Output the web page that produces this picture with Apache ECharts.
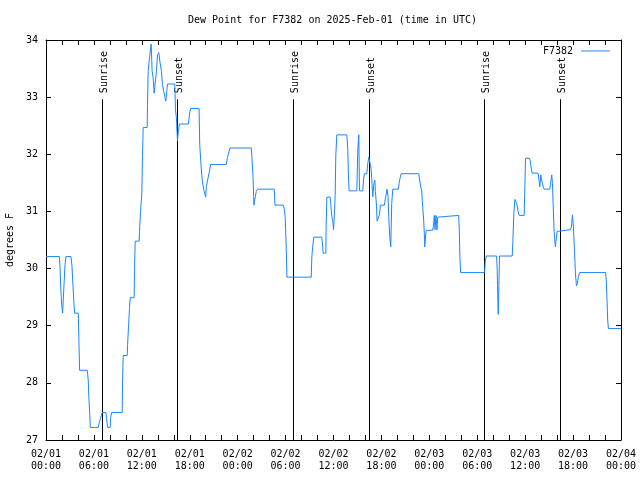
<!DOCTYPE html>
<html><head><meta charset="utf-8">
<script src="https://cdn.jsdelivr.net/npm/echarts@6/dist/echarts.min.js"></script>
<style>html,body{margin:0;padding:0;background:#fff}#c{width:640px;height:480px}</style>
</head><body><div id="c"></div>
<script>
const hours = [0,1.67,1.75,1.83,1.96,2.08,2.17,2.25,2.375,2.5,3.125,3.25,3.375,3.5,3.58,4.04,4.125,4.21,5.17,5.29,5.375,5.5,5.54,6.54,6.67,6.83,7.04,7.5,7.58,7.71,8.04,8.08,8.21,9.54,9.58,9.67,10.17,10.21,10.33,10.46,10.54,11.04,11.08,11.17,11.67,11.71,11.83,12.0,12.08,12.17,12.67,12.71,12.79,13.0,13.17,13.29,13.42,13.54,13.71,13.83,13.96,14.125,14.25,14.46,14.58,14.75,14.875,15.0,15.125,15.21,16.125,16.21,16.33,16.46,16.58,16.71,17.83,18.0,18.125,19.17,19.25,19.42,19.58,19.75,20.0,20.08,20.25,20.42,20.625,22.58,22.71,22.875,23.04,25.71,25.79,25.92,26.0,26.04,26.21,26.33,26.5,28.58,28.67,29.71,29.83,29.96,30.08,30.17,33.21,33.29,33.42,33.54,34.54,34.71,35.04,35.08,35.17,35.58,35.67,35.79,35.92,36.0,36.125,36.21,36.29,36.42,37.67,37.79,37.875,37.96,38.92,39.04,39.17,39.25,39.67,39.75,39.875,40.17,40.29,40.42,40.58,40.67,40.75,40.83,40.92,41.04,41.17,41.25,41.375,41.46,41.67,41.75,41.875,42.375,42.5,42.625,42.71,42.83,42.92,43.04,43.17,43.29,43.42,44.125,44.21,44.33,44.46,46.67,46.79,46.92,47.04,47.17,47.29,47.375,47.42,47.54,47.625,48.42,48.5,48.625,48.71,48.83,48.96,49.04,49.17,51.67,51.75,51.83,51.92,54.92,55.0,55.125,56.42,56.5,56.54,56.625,56.71,56.79,58.375,58.46,58.58,58.71,58.83,58.96,59.125,59.25,59.875,59.96,60.04,60.54,60.625,60.71,60.79,60.875,61.625,61.75,61.83,61.96,62.04,62.17,62.25,62.375,63.08,63.21,63.33,63.42,63.5,63.625,63.71,63.79,63.875,64.0,64.125,65.67,65.79,65.92,66.04,66.17,66.29,66.42,66.54,66.67,66.83,70.08,70.17,70.25,70.33,70.42,72.0];
const dewPoint = [30.21,30.21,30.05,29.71,29.38,29.22,29.22,29.71,30.05,30.21,30.21,30.05,29.71,29.38,29.22,29.22,28.71,28.22,28.22,28.05,27.72,27.38,27.22,27.22,27.30,27.38,27.48,27.48,27.38,27.22,27.22,27.38,27.48,27.48,27.98,28.48,28.48,28.65,28.98,29.32,29.49,29.49,29.98,30.48,30.48,30.65,30.98,31.32,31.98,32.47,32.47,32.85,33.45,33.74,33.93,33.45,33.33,33.07,33.07,33.45,33.74,33.78,33.63,33.45,33.22,33.10,33.01,32.93,33.10,33.23,33.23,32.78,32.64,32.24,32.40,32.53,32.53,32.74,32.80,32.80,32.17,31.79,31.53,31.38,31.25,31.44,31.56,31.67,31.82,31.82,31.94,32.02,32.11,32.11,31.93,31.61,31.26,31.11,31.26,31.35,31.39,31.39,31.11,31.11,31.05,30.88,30.35,29.85,29.85,30.21,30.42,30.55,30.55,30.27,30.27,30.76,31.25,31.25,31.11,30.91,30.82,30.68,30.97,31.30,31.99,32.34,32.34,32.08,31.60,31.36,31.36,32.08,32.34,31.36,31.36,31.55,31.66,31.66,31.84,31.95,31.95,31.78,31.67,31.46,31.26,31.46,31.55,31.35,31.11,30.83,30.83,30.94,31.11,31.11,31.23,31.32,31.39,31.26,30.91,30.56,30.38,31.14,31.39,31.39,31.49,31.58,31.66,31.66,31.55,31.43,31.37,31.08,30.85,30.62,30.38,30.59,30.67,30.67,30.73,30.93,30.68,30.93,30.68,30.90,30.93,30.93,30.68,30.19,29.93,29.93,30.12,30.22,30.22,29.97,29.70,29.20,29.70,30.22,30.22,30.47,30.96,31.21,31.21,31.13,30.99,30.93,30.93,31.43,31.93,31.93,31.89,31.80,31.73,31.67,31.67,31.52,31.43,31.64,31.55,31.49,31.43,31.39,31.39,31.52,31.64,31.49,31.14,30.65,30.50,30.38,30.50,30.65,30.68,30.68,30.73,30.94,30.73,30.33,29.92,29.70,29.74,29.86,29.93,29.93,29.77,29.45,29.10,28.95,28.95];
const xTickLabels = ['02/01\n00:00','02/01\n06:00','02/01\n12:00','02/01\n18:00','02/02\n00:00','02/02\n06:00','02/02\n12:00','02/02\n18:00','02/03\n00:00','02/03\n06:00','02/03\n12:00','02/03\n18:00','02/04\n00:00'];
const sunHours = [7.0, 16.4, 30.9, 40.4, 54.9, 64.4];
const sunNames = ['Sunrise','Sunset','Sunrise','Sunset','Sunrise','Sunset'];
const seriesName = 'F7382';
const titleText = 'Dew Point for F7382 on 2025-Feb-01 (time in UTC)';
const yName = 'degrees F';

const FONT = 'DejaVu Sans Mono';
const LINE_COLOR = '#1a86ff';
const SUN_TOP = 32.965;
const chart = echarts.init(document.getElementById('c'), null, {renderer: 'canvas'});
const lineData = hours.map((h, i) => [h, dewPoint[i]]);
const tickCommon = {inside: true, length: 5, lineStyle: {color: '#000', width: 1}};
const axisLineCommon = {show: true, onZero: false, lineStyle: {color: '#000', width: 1}};
const option = {
  animation: false,
  backgroundColor: '#fff',
  title: {text: titleText, left: 183, top: 10,
    textStyle: {fontFamily: FONT, fontSize: 10, fontWeight: 'normal', color: '#000'}},
  legend: {data: [{name: seriesName, icon: 'rect'}], right: 25, top: 41, align: 'right',
    itemWidth: 29, itemHeight: 1, itemStyle: {color: LINE_COLOR},
    textStyle: {fontFamily: FONT, fontSize: 10, color: '#000', padding: [0, 3, 0, 0]}},
  grid: {left: 46, right: 19, top: 40, bottom: 40, containLabel: false, outerBoundsMode: 'none'},
  xAxis: [
    {type: 'value', min: 0, max: 72, interval: 6, position: 'bottom',
      axisLine: axisLineCommon, axisTick: tickCommon,
      minorTick: {show: true, splitNumber: 3, length: 5, lineStyle: {color: '#000', width: 1}},
      splitLine: {show: false}, minorSplitLine: {show: false},
      axisLabel: {formatter: v => xTickLabels[Math.round(v / 6)] || '', fontFamily: FONT, fontSize: 10,
        color: '#000', lineHeight: 12, margin: 8}},
    {type: 'value', min: 0, max: 72, interval: 6, position: 'top',
      axisLine: axisLineCommon, axisTick: tickCommon,
      minorTick: {show: true, splitNumber: 3, length: 5, lineStyle: {color: '#000', width: 1}},
      splitLine: {show: false}, axisLabel: {show: false}}
  ],
  yAxis: [
    {type: 'value', min: 27, max: 34, interval: 1, position: 'left',
      name: yName, nameLocation: 'middle', nameGap: 31,
      nameTextStyle: {fontFamily: FONT, fontSize: 10, color: '#000'},
      axisLine: axisLineCommon, axisTick: tickCommon, splitLine: {show: false},
      axisLabel: {fontFamily: FONT, fontSize: 10, color: '#000', margin: 8}},
    {type: 'value', min: 27, max: 34, interval: 1, position: 'right',
      axisLine: axisLineCommon, axisTick: tickCommon, splitLine: {show: false},
      axisLabel: {show: false}}
  ],
  series: [
    {type: 'custom', xAxisIndex: 0, yAxisIndex: 0, silent: true,
      data: sunHours.map(h => [h, 27]),
      encode: {x: 0, y: 1},
      renderItem: (params, api) => {
        const h = api.value(0);
        const p0 = api.coord([h, 27]);
        const p1 = api.coord([h, SUN_TOP]);
        const x = Math.round(p0[0]) + 0.5;
        return {type: 'group', children: [
          {type: 'line', shape: {x1: x, y1: p0[1], x2: x, y2: p1[1]},
            style: {stroke: '#000', lineWidth: 1}},
          {type: 'text', x: x + 1.5, y: p1[1] - 6, rotation: Math.PI / 2,
            style: {text: sunNames[params.dataIndex], fontFamily: FONT, fontSize: 10, fill: '#000',
              align: 'left', verticalAlign: 'middle'}}
        ]};
      }},
    {type: 'line', name: seriesName, xAxisIndex: 0, yAxisIndex: 0, data: lineData,
      symbol: 'none', showSymbol: false,
      lineStyle: {color: LINE_COLOR, width: 1}, itemStyle: {color: LINE_COLOR}}
  ]
};
chart.setOption(option);
</script></body></html>
